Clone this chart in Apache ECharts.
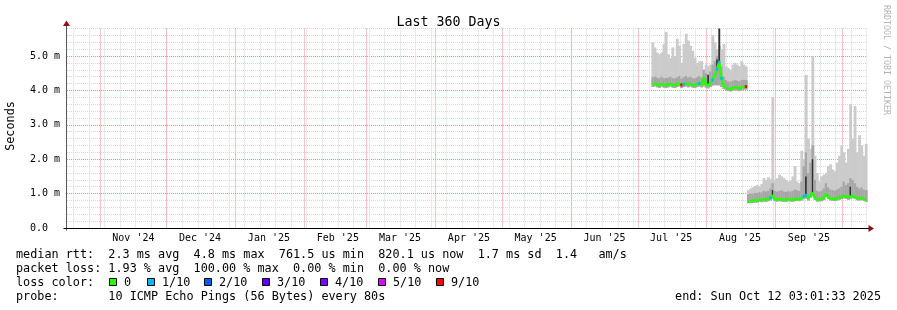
<!DOCTYPE html>
<html><head><meta charset="utf-8">
<script src="https://cdn.jsdelivr.net/npm/echarts@6/dist/echarts.min.js"></script>
<style>html,body{margin:0;padding:0;background:#fff}#c{width:897px;height:310px}</style>
</head><body><div id="c"></div>
<script>
// ================= DATA =================
const chartTitle = 'Last 360 Days';
const yAxisName = 'Seconds';
const watermark = 'RRDTOOL / TOBI OETIKER';
// x axis: days since Thu Oct 17 2024 03:01:33 (plot spans 360 days)
const xSpanDays = 360;
const yTop = 5.8;                       // ms at top of plot
const monthStarts = [14.874, 44.874, 75.874, 106.874, 134.874, 165.874, 195.874, 226.874, 256.874, 287.874, 318.874, 348.874];
const monthLabels = ["Nov '24", "Dec '24", "Jan '25", "Feb '25", "Mar '25", "Apr '25", "May '25", "Jun '25", "Jul '25", "Aug '25", "Sep '25"];
const firstSunday = 2.874;              // first weekly grid line
const yTicks = [0, 1, 2, 3, 4, 5];
const yTickLabels = ['0.0  ', '1.0 m', '2.0 m', '3.0 m', '4.0 m', '5.0 m'];
const yMinorStep = 0.2;

// segment 1 (days 263..305), values in ms
const seg1Start = 263;
const seg1Med  = [4.18,4.20,4.17,4.15,4.19,4.16,4.15,4.17,4.19,4.16,4.15,4.18,4.20,4.16,4.18,4.20,4.17,4.19,4.16,4.15,4.18,4.20,4.17,4.38,4.17,4.15,4.20,4.30,4.45,4.62,4.82,4.35,4.12,4.08,4.05,4.04,4.07,4.09,4.08,4.06,4.09,4.10,4.11];
const seg1Min  = [4.10,4.12,4.09,4.07,4.11,4.08,4.07,4.09,4.11,4.08,4.07,4.10,4.12,4.07,4.10,4.12,4.09,4.11,4.08,4.07,4.10,4.12,4.09,4.12,4.08,4.06,4.10,4.14,4.15,4.15,4.15,4.10,4.04,4.00,3.98,3.97,3.99,4.01,4.00,3.98,4.01,4.02,4.03];
const seg1Mid  = [4.38,4.40,4.37,4.35,4.40,4.36,4.36,4.37,4.40,4.36,4.35,4.38,4.42,4.34,4.38,4.42,4.37,4.40,4.36,4.35,4.38,4.42,4.37,4.60,4.50,4.48,4.55,4.75,4.85,5.00,5.30,4.70,4.40,4.30,4.26,4.25,4.28,4.30,4.29,4.27,4.30,4.31,4.30];
const seg1Core = [null,null,null,null,null,null,null,null,null,null,null,null,null,null,null,null,null,null,null,null,null,null,null,null,null,4.45,null,null,null,4.90,5.80,null,null,null,null,null,null,null,null,null,null,null,null];
const seg1Max  = [5.40,5.25,5.10,5.05,5.10,5.35,5.70,5.05,4.95,5.25,5.00,5.50,5.30,4.80,5.35,5.65,5.45,5.30,5.15,4.95,4.80,4.85,4.85,4.60,4.75,4.70,4.75,5.60,5.40,5.20,5.80,5.20,5.35,4.70,4.65,4.60,4.75,4.80,4.75,4.70,4.85,4.75,4.70];
const seg1Loss = [0,0,0,0,0,0,0,0,0,0,0,0,0,9,1,0,0,0,0,0,0,1,0,0,0,0,0,1,0,1,1,1,0,0,0,0,0,0,0,0,0,0,9];

// segment 2 (days 306..359), values in ms
const seg2Start = 306;
const seg2Med  = [0.77,0.78,0.79,0.80,0.80,0.82,0.81,0.83,0.82,0.84,0.88,0.95,0.84,0.83,0.84,0.83,0.82,0.82,0.84,0.83,0.82,0.84,0.85,0.84,0.86,0.92,0.95,0.86,0.96,1.02,0.88,0.83,0.83,0.84,0.88,0.99,0.90,0.86,0.85,0.84,0.86,0.88,0.90,0.94,0.92,0.88,0.91,0.95,0.90,0.87,0.86,0.87,0.85,0.82];
const seg2Min  = [0.72,0.73,0.73,0.74,0.74,0.76,0.75,0.77,0.76,0.78,0.80,0.84,0.78,0.77,0.78,0.77,0.76,0.76,0.78,0.77,0.76,0.78,0.79,0.78,0.80,0.84,0.86,0.80,0.88,0.92,0.82,0.77,0.77,0.78,0.81,0.90,0.84,0.80,0.79,0.78,0.80,0.82,0.84,0.86,0.85,0.82,0.84,0.87,0.84,0.81,0.80,0.81,0.79,0.76];
const seg2Mid  = [0.98,1.00,1.00,1.02,1.02,1.04,1.03,1.08,1.06,1.08,1.15,1.30,1.08,1.06,1.08,1.10,1.06,1.05,1.07,1.06,1.08,1.12,1.10,1.08,1.35,1.80,2.20,1.60,1.90,2.40,1.40,1.08,1.05,1.08,1.15,1.30,1.18,1.12,1.10,1.08,1.12,1.15,1.20,1.35,1.25,1.30,1.45,1.40,1.30,1.20,1.15,1.18,1.12,1.10];
const seg2Core = [null,null,null,null,null,null,null,null,null,null,null,1.10,null,null,null,null,null,null,null,null,null,null,null,null,null,null,1.50,null,null,2.00,null,null,null,null,null,null,null,null,null,null,null,null,null,null,null,null,1.20,null,null,null,null,null,null,null];
const seg2Max  = [1.10,1.15,1.18,1.22,1.25,1.20,1.28,1.45,1.40,1.48,1.42,3.80,1.40,1.45,1.55,1.50,1.45,1.40,1.35,1.38,1.50,1.80,1.35,1.30,2.25,2.00,4.45,2.60,2.30,5.00,2.10,1.60,1.35,1.50,1.55,1.60,1.80,1.85,1.70,1.65,1.90,2.10,2.40,2.20,1.90,2.30,3.60,2.60,3.55,2.20,2.70,2.40,2.10,2.45];
const seg2Loss = [0,0,0,0,0,0,0,0,0,0,1,0,0,0,0,0,0,0,0,0,0,0,0,0,0,1,1,0,0,0,0,0,0,0,0,0,0,0,0,0,0,0,0,0,0,0,0,0,0,0,0,0,0,0];

// legend
const lossCounts = [0, 1, 2, 3, 4, 5, 9];
const lossLabels = ['0', '1/10', '2/10', '3/10', '4/10', '5/10', '9/10'];
const lossColors = ['#26ff00', '#00b8ff', '#0059ff', '#5e00ff', '#7e00ff', '#dd00ff', '#ff0000'];
const legendLine1 = 'median rtt:  2.3 ms avg  4.8 ms max  761.5 us min  820.1 us now  1.7 ms sd  1.4   am/s';
const legendLine2 = 'packet loss: 1.93 % avg  100.00 % max  0.00 % min  0.00 % now';
const legendLine3 = 'loss color:';
const legendLine4 = 'probe:       10 ICMP Echo Pings (56 Bytes) every 80s';
const legendEnd   = 'end: Sun Oct 12 03:01:33 2025';

// ================= CHART =================
const FONT = '"DejaVu Sans Mono", monospace';
const LFONT = '11.8px ' + FONT;
const chart = echarts.init(document.getElementById('c'), null, {renderer: 'canvas'});
const labelDays = monthLabels.map((_, i) => monthStarts[i] + 15);
const lossColorOf = c => lossColors[lossCounts.indexOf(c)] || lossColors[0];
const weekDays = [];
for (let d = firstSunday; d < xSpanDays; d += 7) weekDays.push(d);

function smokeData(start, mins, mids, maxs, cores, meds) {
  return meds.map((m, i) => [start + i, mins[i], mids[i], maxs[i], cores[i] == null ? m : cores[i], m]);
}
function renderSmoke(params, api) {
  const d = api.value(0);
  const x0 = api.coord([d, 0])[0], x1 = api.coord([d + 1, 0])[0];
  const yMin = api.coord([d, api.value(1)])[1];
  const yMid = api.coord([d, api.value(2)])[1];
  const yMax = api.coord([d, api.value(3)])[1];
  const yCore = api.coord([d, api.value(4)])[1];
  const yMed = api.coord([d, api.value(5)])[1];
  const w = x1 - x0 + 0.6;
  const ch = [
    {type: 'rect', shape: {x: x0, y: yMax, width: w, height: yMin - yMax}, style: {fill: '#cbcbcb', stroke: null}},
    {type: 'rect', shape: {x: x0, y: yMid, width: w, height: yMin - yMid}, style: {fill: '#a6a6a6', stroke: null}}
  ];
  if (yMed - yCore > 0.5) {
    ch.push({type: 'rect', shape: {x: x0 + (x1 - x0) / 2 - 0.8, y: yCore, width: 1.6, height: yMed - yCore}, style: {fill: '#2e2e2e', stroke: null}});
  }
  return {type: 'group', children: ch};
}
function lossMarks(start, meds, losses) {
  const out = [];
  losses.forEach((l, i) => { if (l > 0) out.push([start + i, meds[i], l]); });
  return out;
}
function renderLoss(params, api) {
  const d = api.value(0);
  const p0 = api.coord([d, api.value(1)]), p1 = api.coord([d + 1, api.value(1)]);
  return {type: 'rect', shape: {x: p0[0], y: p0[1] - 1.5, width: p1[0] - p0[0], height: 3}, style: {fill: lossColorOf(api.value(2)), stroke: null}};
}
function renderFrame(params, api) {
  const o = api.coord([0, 0]), xe = api.coord([xSpanDays, 0]), ye = api.coord([0, yTop]);
  const ax = Math.round(o[0]) - 0.5, ay = Math.round(o[1]) + 0.5;
  const ARROW = '#8b1414';
  return {type: 'group', children: [
    {type: 'line', shape: {x1: ax, y1: ay + 2, x2: ax, y2: ye[1] - 3}, style: {stroke: '#5a5a5a', lineWidth: 1}},
    {type: 'line', shape: {x1: ax - 3, y1: ay, x2: xe[0] + 2, y2: ay}, style: {stroke: '#000', lineWidth: 1}},
    {type: 'polygon', shape: {points: [[ax, ye[1] - 8], [ax - 3.5, ye[1] - 2.5], [ax + 3.5, ye[1] - 2.5]]}, style: {fill: ARROW, stroke: null}},
    {type: 'polygon', shape: {points: [[xe[0] + 7, ay], [xe[0] + 1.5, ay - 3.5], [xe[0] + 1.5, ay + 3.5]]}, style: {fill: ARROW, stroke: null}}
  ]};
}
function medLine(start, meds) { return meds.map((m, i) => [start + i + 0.5, m]); }

const legendY = [255, 268.5, 282.5, 296.5];
const graphics = [
  {type: 'text', x: 11, y: 126, rotation: Math.PI / 2, style: {text: yAxisName, font: LFONT, fill: '#000', align: 'center', verticalAlign: 'middle'}},
  {type: 'text', x: 886, y: 60, rotation: -Math.PI / 2, style: {text: watermark, font: '8.3px ' + FONT, fill: '#b4b4b4', align: 'center', verticalAlign: 'middle'}},
  {type: 'text', x: 16, y: legendY[0], style: {text: legendLine1, font: LFONT, fill: '#000', verticalAlign: 'middle'}},
  {type: 'text', x: 16, y: legendY[1], style: {text: legendLine2, font: LFONT, fill: '#000', verticalAlign: 'middle'}},
  {type: 'text', x: 16, y: legendY[2], style: {text: legendLine3, font: LFONT, fill: '#000', verticalAlign: 'middle'}},
  {type: 'text', x: 16, y: legendY[3], style: {text: legendLine4, font: LFONT, fill: '#000', verticalAlign: 'middle'}},
  {type: 'text', x: 881, y: legendY[3], style: {text: legendEnd, font: LFONT, fill: '#000', align: 'right', verticalAlign: 'middle'}}
];
const boxX = [109.5, 147.5, 204.5, 262.5, 320.5, 378.5, 436.5];
lossLabels.forEach((t, i) => {
  graphics.push({type: 'rect', shape: {x: boxX[i], y: legendY[2] - 4, width: 7, height: 7}, style: {fill: lossColors[i], stroke: '#000', lineWidth: 1}});
  graphics.push({type: 'text', x: boxX[i] + 14.5, y: legendY[2], style: {text: t, font: LFONT, fill: '#000', verticalAlign: 'middle'}});
});

const MINOR_C = '#d8d8d8', MAJOR_C = '#f08c8c';
const MINOR = {color: MINOR_C, width: 1, type: [1, 1]};
const MAJOR = {color: MAJOR_C, width: 1, type: [1, 1]};
const hidden = {show: false};
chart.setOption({
  animation: false,
  backgroundColor: '#fff',
  title: {text: chartTitle, left: 'center', top: 11, textStyle: {fontFamily: FONT, fontSize: 13.3, fontWeight: 'normal', color: '#000'}},
  grid: {left: 67, width: 800, top: 28.5, height: 199.5, containLabel: false},
  xAxis: [
    {type: 'value', min: 0, max: xSpanDays, axisLine: hidden, axisTick: hidden, splitLine: hidden,
     axisLabel: {customValues: labelDays, margin: 5, fontFamily: FONT, fontSize: 10, color: '#000',
       formatter: v => { let best = 0; labelDays.forEach((d, i) => { if (Math.abs(d - v) < Math.abs(labelDays[best] - v)) best = i; }); return monthLabels[best]; }}},
    {type: 'value', min: 0, max: xSpanDays, axisLine: hidden, axisLabel: hidden,
     axisTick: {show: false, customValues: weekDays}, splitLine: {show: true, lineStyle: MINOR}},
    {type: 'value', min: 0, max: xSpanDays, axisLine: hidden, axisLabel: hidden,
     axisTick: {show: false, customValues: monthStarts}, splitLine: {show: true, lineStyle: MAJOR}}
  ],
  yAxis: [
    {type: 'value', min: 0, max: yTop, axisLine: hidden, axisTick: hidden, splitLine: hidden,
     axisLabel: {customValues: yTicks, margin: 7, fontFamily: FONT, fontSize: 10, color: '#000',
       formatter: v => yTickLabels[yTicks.indexOf(Math.round(v))]}},
    // every 0.2 ms; each fifth line (whole ms) drawn in the major colour
    {type: 'value', min: 0, max: yTop, interval: yMinorStep, axisLine: hidden, axisLabel: hidden, axisTick: hidden,
     splitLine: {show: true, showMinLine: false, lineStyle: {color: [MINOR_C, MINOR_C, MINOR_C, MINOR_C, MAJOR_C], width: 1, type: [1, 1]}}}
  ],
  graphic: graphics,
  series: [
    {type: 'custom', name: 'smoke1', renderItem: renderSmoke, data: smokeData(seg1Start, seg1Min, seg1Mid, seg1Max, seg1Core, seg1Med), z: 2, silent: true},
    {type: 'custom', name: 'smoke2', renderItem: renderSmoke, data: smokeData(seg2Start, seg2Min, seg2Mid, seg2Max, seg2Core, seg2Med), z: 2, silent: true},
    {type: 'line', name: 'median1', data: medLine(seg1Start, seg1Med), showSymbol: false, lineStyle: {color: lossColors[0], width: 2.5}, z: 3, silent: true},
    {type: 'line', name: 'median2', data: medLine(seg2Start, seg2Med), showSymbol: false, lineStyle: {color: lossColors[0], width: 2.5}, z: 3, silent: true},
    {type: 'custom', name: 'loss', renderItem: renderLoss, data: lossMarks(seg1Start, seg1Med, seg1Loss).concat(lossMarks(seg2Start, seg2Med, seg2Loss)), z: 4, silent: true},
    {type: 'custom', name: 'frame', renderItem: renderFrame, data: [[0, 0]], z: 6, silent: true, clip: false}
  ]
});
</script>
</body></html>
